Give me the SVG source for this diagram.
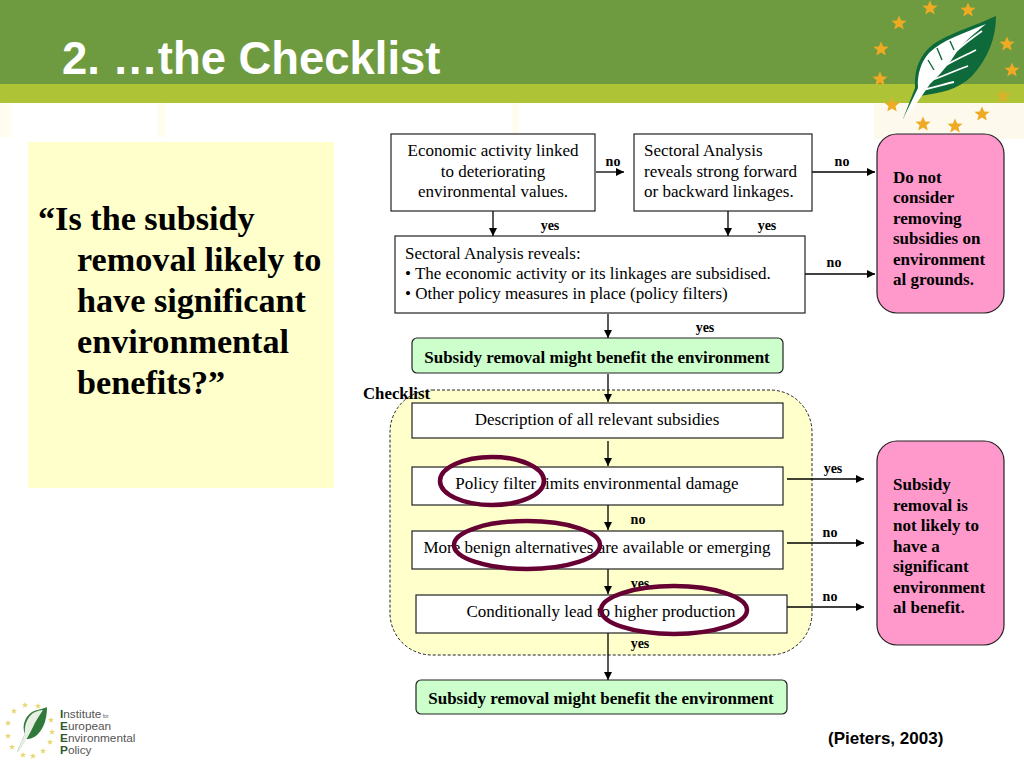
<svg xmlns="http://www.w3.org/2000/svg" width="1024" height="768" viewBox="0 0 1024 768">
<style>
text{font-family:"Liberation Serif","Times New Roman",serif;fill:#000}
.t{font-size:17px;transform:translateY(.8px)}
.m{text-anchor:middle}
.b{font-weight:bold}
.l{font-size:14px;font-weight:bold}
.box{fill:#fff;stroke:#222;stroke-width:1.2}
.gbox{fill:#ccffcc;stroke:#222;stroke-width:1.2}
.pink{fill:#ff99cc;stroke:#222;stroke-width:1.2}
.c{stroke:#000;stroke-width:1.3;fill:none;marker-end:url(#a)}
.ring{fill:none;stroke:#660033;stroke-width:4.5}
.star{fill:#eeaa22}
.q{font-size:34.2px;font-weight:bold;transform:translateY(.8px)}
.logo{font-family:"Liberation Sans",Arial,sans-serif;font-size:11.8px;fill:#555}
.cap{fill:#2f5a2a;font-weight:bold}
.ls{fill:#e8d878}
.vein{stroke:#fff;stroke-width:1.8;fill:none}
</style>
<defs>
<marker id="a" markerWidth="10" markerHeight="10" refX="8" refY="4" orient="auto" markerUnits="userSpaceOnUse"><path d="M0 0L8 4L0 8Z" fill="#000"/></marker>
<path id="s" d="M0-7.5L2.2-2.4L7.6-2.2L3.4 1.2L4.8 6.6L0 3.6L-4.8 6.6L-3.4 1.2L-7.6-2.2L-2.2-2.4Z"/>
</defs>
<rect width="1024" height="768" fill="#fff"/>
<g id="header">
<rect x="0" y="103" width="12" height="34" fill="#fffdf0"/>
<rect x="158" y="103" width="8" height="34" fill="#fffdf0"/>
<rect x="512" y="103" width="7" height="34" fill="#fffdf0"/>
<rect x="874" y="103" width="150" height="36" fill="#fdf9ec"/>
<rect x="0" y="0" width="1024" height="84" fill="#6f9b40"/>
<rect x="0" y="84" width="1024" height="19" fill="#afc337"/>
<text x="62" y="74" style="font-family:'Liberation Sans',Arial,sans-serif;font-size:45.4px;font-weight:bold;fill:#fff">2. …the Checklist</text>
</g>
<g id="leaf-emblem">
<g class="star">
<use href="#s" x="930" y="8"/><use href="#s" x="968" y="10"/><use href="#s" x="899" y="23"/><use href="#s" x="881" y="49"/><use href="#s" x="880" y="79"/><use href="#s" x="1007" y="44"/><use href="#s" x="1012" y="70"/><use href="#s" x="1003" y="96" opacity=".6"/><use href="#s" x="892" y="105"/><use href="#s" x="923" y="124"/><use href="#s" x="955" y="126"/><use href="#s" x="982" y="114"/>
</g>
<path d="M903 119L915 88C914 72 918 60 927 50C940 36 965 30 996 16C996 38 988 58 972 76C958 90 940 93 920 96Z" fill="#0e6a3a"/>
<path d="M903 119L918 88C917 74 921 62 929 53C942 40 962 34 986 24C974 34 966 40 958 50L950 62L940 74L930 84C922 96 912 110 903 119Z" fill="#fff"/>
<path class="vein" d="M922 90C934 88 944 84 954 82M932 80C944 76 956 70 968 66M943 67C954 60 966 55 976 50M955 52C964 44 972 38 982 31"/>
<path d="M928 60L934 70M937 48L942 60M950 41L954 50" stroke="#0e6a3a" stroke-width="1.4" fill="none"/>
</g>
<g id="question">
<rect x="28" y="142" width="306" height="346" fill="#ffffcc"/>
<text class="q" x="38" y="229">“Is the subsidy</text>
<text class="q" x="77" y="270">removal likely to</text>
<text class="q" x="77" y="311">have significant</text>
<text class="q" x="77" y="352">environmental</text>
<text class="q" x="77" y="393">benefits?”</text>
</g>
<g id="checklist-panel">
<rect x="390" y="390" width="422" height="265" rx="42" fill="#ffffcc" stroke="#222" stroke-width="1" stroke-dasharray="3 2"/>
<text class="b" x="363" y="399" style="font-size:16.8px">Checklist</text>
</g>
<g id="connectors">
<path class="c" d="M596 172H624"/>
<path class="c" d="M812 172H875"/>
<path class="c" d="M493 211V236"/>
<path class="c" d="M728 211V236"/>
<path class="c" d="M805 274H875"/>
<path class="c" d="M608 314V338"/>
<path class="c" d="M608 374V402"/>
<path class="c" d="M608 441V466"/>
<path class="c" d="M608 505V530"/>
<path class="c" d="M608 569V594"/>
<path class="c" d="M608 633V680"/>
<path class="c" d="M787 479H864"/>
<path class="c" d="M787 543H864"/>
<path class="c" d="M787 607H864"/>
</g>
<g id="connector-labels">
<text class="l m" x="613" y="166">no</text>
<text class="l m" x="842" y="166">no</text>
<text class="l m" x="550" y="230">yes</text>
<text class="l m" x="767" y="230">yes</text>
<text class="l m" x="834" y="267">no</text>
<text class="l m" x="705" y="332">yes</text>
<text class="l m" x="833" y="473">yes</text>
<text class="l m" x="638" y="524">no</text>
<text class="l m" x="830" y="537">no</text>
<text class="l m" x="640" y="588">yes</text>
<text class="l m" x="830" y="601">no</text>
<text class="l m" x="640" y="648">yes</text>
</g>
<g id="node-economic">
<rect class="box" x="391" y="134" width="204" height="77"/>
<text class="t m" x="493" y="155">Economic activity linked</text>
<text class="t m" x="493" y="176">to deteriorating</text>
<text class="t m" x="493" y="196">environmental values.</text>
</g>
<g id="node-sectoral">
<rect class="box" x="634" y="134" width="178" height="77"/>
<text class="t" x="644" y="155">Sectoral Analysis</text>
<text class="t" x="644" y="176">reveals strong forward</text>
<text class="t" x="644" y="196">or backward linkages.</text>
</g>
<g id="node-reveals">
<rect class="box" x="395" y="236" width="410" height="77"/>
<text class="t" x="405" y="258">Sectoral Analysis reveals:</text>
<text class="t" x="405" y="278">• The economic activity or its linkages are subsidised.</text>
<text class="t" x="405" y="298">• Other policy measures in place (policy filters)</text>
</g>
<g id="node-benefit-1">
<rect class="gbox" x="412" y="338" width="371" height="35" rx="5"/>
<text class="t m b" x="597" y="362">Subsidy removal might benefit the environment</text>
</g>
<g id="node-description">
<rect class="box" x="412" y="403" width="371" height="35"/>
<text class="t m" x="597" y="424">Description of all relevant subsidies</text>
</g>
<g id="node-filter">
<rect class="box" x="412" y="467" width="371" height="38"/>
<text class="t m" x="597" y="488">Policy filter limits environmental damage</text>
</g>
<g id="node-alternatives">
<rect class="box" x="412" y="531" width="371" height="38"/>
<text class="t m" x="597" y="552">More benign alternatives are available or emerging</text>
</g>
<g id="node-production">
<rect class="box" x="416" y="595" width="371" height="38"/>
<text class="t m" x="601" y="616">Conditionally lead to higher production</text>
</g>
<g id="node-benefit-2">
<rect class="gbox" x="416" y="680" width="371" height="34" rx="5"/>
<text class="t m b" x="601" y="703">Subsidy removal might benefit the environment</text>
</g>
<g id="node-do-not">
<rect class="pink" x="877" y="134" width="127" height="179" rx="20"/>
<g class="t b"><text x="893" y="182">Do not</text><text x="893" y="202">consider</text><text x="893" y="223">removing</text><text x="893" y="243">subsidies on</text><text x="893" y="264">environment</text><text x="893" y="284">al grounds.</text></g>
</g>
<g id="node-not-likely">
<rect class="pink" x="877" y="441" width="127" height="204" rx="20"/>
<g class="t b"><text x="893" y="489">Subsidy</text><text x="893" y="510">removal is</text><text x="893" y="530">not likely to</text><text x="893" y="551">have a</text><text x="893" y="571">significant</text><text x="893" y="592">environment</text><text x="893" y="612">al benefit.</text></g>
</g>
<g id="rings">
<ellipse class="ring" cx="492" cy="481" rx="52" ry="24"/>
<ellipse class="ring" cx="527" cy="545" rx="73" ry="24"/>
<ellipse class="ring" cx="674" cy="610" rx="73" ry="24"/>
</g>
<text id="citation" x="828" y="744" style="font-family:'Liberation Sans',Arial,sans-serif;font-size:17px;font-weight:bold">(Pieters, 2003)</text>
<g id="institute-logo">
<g class="ls">
<use href="#s" transform="translate(25 705) scale(.4)"/><use href="#s" transform="translate(38 706) scale(.4)"/><use href="#s" transform="translate(14 711) scale(.4)"/><use href="#s" transform="translate(8 723) scale(.4)"/><use href="#s" transform="translate(8 736) scale(.4)"/><use href="#s" transform="translate(12 747) scale(.4)"/><use href="#s" transform="translate(23 755) scale(.4)"/><use href="#s" transform="translate(33 756) scale(.4)"/><use href="#s" transform="translate(43 751) scale(.4)"/><use href="#s" transform="translate(50 742) scale(.4)"/><use href="#s" transform="translate(52 732) scale(.4)"/><use href="#s" transform="translate(51 720) scale(.4)"/>
</g>
<path d="M17 752C21 743 23 738 25 734C21 725 26 716 32 712C38 709 43 709 47 707C47 718 44 728 38 734C33 739 28 739 26 739C23 744 20 749 17 752Z" fill="#2f7a3a"/>
<path d="M17 752C21 742 24 737 25 733C24 724 28 717 33 713C37 711 40 710 43 710C39 716 35 722 33 727C30 733 24 745 17 752Z" fill="#e8efe4"/>
<text class="logo" x="60" y="718"><tspan class="cap">I</tspan>nstitute<tspan font-size="5"> for</tspan></text>
<text class="logo" x="60" y="730"><tspan class="cap">E</tspan>uropean</text>
<text class="logo" x="60" y="742"><tspan class="cap">E</tspan>nvironmental</text>
<text class="logo" x="60" y="754"><tspan class="cap">P</tspan>olicy</text>
</g>
</svg>
